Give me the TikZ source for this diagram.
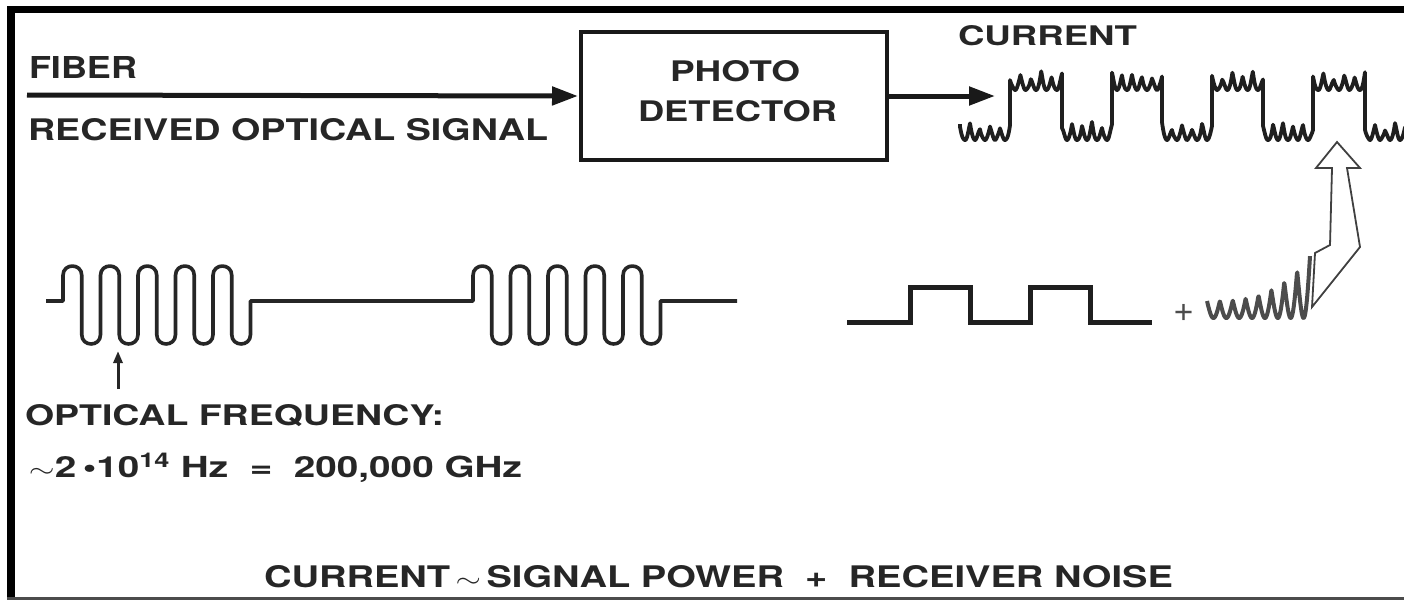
\documentclass[tikz,border=0pt]{standalone}
\usepackage{fontspec}
\setmainfont{TeX Gyre Heros}
\usepackage{graphicx}
\usetikzlibrary{arrows.meta}
\newsavebox\fitbox
\newcommand\fitw[2]{\sbox\fitbox{#2}\pgfmathsetmacro\fitsx{#1/\the\wd\fitbox}\scalebox{\fitsx}[1]{\usebox\fitbox}}
\begin{document}
\begin{tikzpicture}[x=1pt,y=-1pt,
  txt/.style={inner sep=0pt, outer sep=0pt, text=black!85, font=\fontsize{29}{34}\selectfont},
  bigarrow/.style={line width=5pt, black!90, -{Triangle[length=26pt,width=18pt]}},
  optwave/.style={line width=3.6pt, black!85, line join=round},
  curwave/.style={line width=3.8pt, black!88, line join=round},
  noisewave/.style={line width=4pt, black!70, line join=round},
  sqwave/.style={line width=5pt, black!88, line join=miter},
  pdbox/.style={draw=black!90, line width=4pt, minimum width=306pt, minimum height=128pt, inner sep=0pt}]
\useasboundingbox (0,0) rectangle (1404,600);
% frame
\fill[black] (7,6) rectangle (15,600);
\fill[black] (7,6) rectangle (1404,13);
\fill[black!70] (7,597) rectangle (1404,599.5);

% photodetector box
\node[pdbox] (pd) at (734,96) {};
\node[txt, anchor=base] (photo) at (735,81) {\resizebox{130pt}{21pt}{\textbf{PHOTO}}};
\node[txt, anchor=base] (detector) at (737.5,121) {\resizebox{199pt}{21pt}{\textbf{DETECTOR}}};

% fiber input
\coordinate (fstart) at (27,95);
\draw[bigarrow] (fstart) -- ([xshift=-1pt]pd.west);
\node[txt, anchor=base west] (fiber) at (29,78) {\resizebox{108pt}{22pt}{\textbf{FIBER}}};
\node[txt, anchor=base west] (received) at (28,140) {\resizebox{520pt}{22pt}{\textbf{RECEIVED OPTICAL SIGNAL}}};

% output arrow
\coordinate (cstart) at (995,96);
\draw[bigarrow] (pd.east) -- (cstart);
\node[txt, anchor=base west] (current) at (958,45) {\resizebox{179pt}{20pt}{\textbf{CURRENT}}};

% current waveform (signal + noise)
\draw[curwave] (960,124)
  foreach \xa/\xb/\yb in {960/1010/140, 1010/1062/90, 1062/1112/140, 1112/1162/90, 1162/1212/140, 1212/1263/90, 1263/1313/140, 1313/1365/90, 1365/1415/140}{
   -- plot[domain=\xa:\xb, samples=101] (\x,{\yb-(14+3*sin(17*(\x-\xa)+\xa)+2*sin(41*(\x-\xa)+2*\xa))*(1-abs(sin((\x-\xa)*(900/(\xb-\xa)))))})
  };

% optical signal
\draw[optwave] (46,301) -- (63,301)
  foreach \i in {0,...,4}{
   -- ({63+37.5*\i},275.4) .. controls ({63+37.5*\i},262.9) and ({63+37.5*\i+18.75},262.9) .. ({63+37.5*\i+18.75},275.4)
   -- ({63+37.5*\i+18.75},334.6) .. controls ({63+37.5*\i+18.75},347.1) and ({63+37.5*\i+37.5},347.1) .. ({63+37.5*\i+37.5},334.6)
  } -- (250.5,301) -- (473,301)
  foreach \i in {0,...,4}{
   -- ({473+37.5*\i},275.4) .. controls ({473+37.5*\i},262.9) and ({473+37.5*\i+18.75},262.9) .. ({473+37.5*\i+18.75},275.4)
   -- ({473+37.5*\i+18.75},334.6) .. controls ({473+37.5*\i+18.75},347.1) and ({473+37.5*\i+37.5},347.1) .. ({473+37.5*\i+37.5},334.6)
  } -- (660.5,301) -- (737,301);

% optical frequency pointer
\coordinate (ptail) at (118,389);
\coordinate (phead) at (118,351);
\draw[line width=3pt, black!85, -{Triangle[length=12pt,width=9pt]}] (ptail) -- (phead);
\node[txt, anchor=base west] (optfreq) at (25,425) {\resizebox{419pt}{21pt}{\textbf{OPTICAL FREQUENCY:}}};
\node[txt, anchor=base west] (freqval) at (29,477) {\fitw{493}{\textbf{$\sim$2\,\textbullet10\textsuperscript{14} Hz\ \ =\ \ 200,000 GHz}}};

% signal power (square wave)
\draw[sqwave] (847,322) -- (910,322) -- (910,287) -- (970,287) -- (970,322) -- (1030,322) -- (1030,287) -- (1090,287) -- (1090,322) -- (1152,322);
\node[txt, text=black!70] (plus) at (1184,313) {\resizebox{21pt}{!}{+}};

% receiver noise
\draw[noisewave] plot[domain=1207:1310, samples=260] (\x,{318-(17+45*((\x-1207)/103)^3)*(1-abs(sin((\x-1207)*13.98)))});

% hollow arrow
\draw[line width=1.8pt, black!75, fill=white, line join=miter] (1337,142) -- (1360,168) -- (1347,168) -- (1360,247) -- (1312,307) -- (1315,253) -- (1330,245) -- (1332,168) -- (1316,168) -- cycle;

% bottom formula
\node[txt, anchor=base west] (formula) at (264,587) {\resizebox{909pt}{22pt}{\textbf{CURRENT$\,\sim\,$SIGNAL POWER\ \ +\ \ RECEIVER NOISE}}};
\end{tikzpicture}
\end{document}
